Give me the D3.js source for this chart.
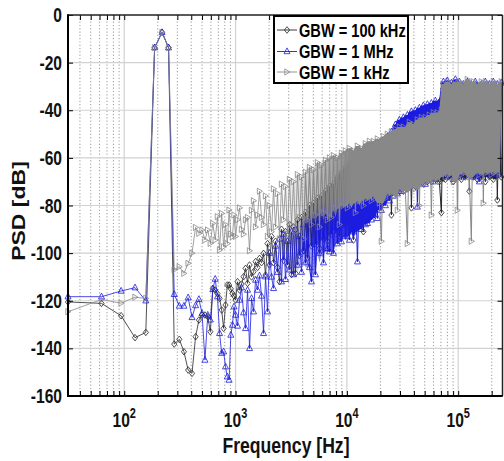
<!DOCTYPE html>
<html><head><meta charset="utf-8">
<script src="https://cdn.jsdelivr.net/npm/d3@7"></script>
<style>
html,body{margin:0;padding:0;background:#fff;}
svg{display:block;font-family:"Liberation Sans",Arial,sans-serif;font-weight:bold;}
</style>
</head><body>
<svg id="c" width="504" height="461"></svg>
<script>
// ---------------- DATA ----------------
const seriesNames = ["GBW = 100 kHz", "GBW = 1 MHz", "GBW = 1 kHz"];
const yTicks = [-160, -140, -120, -100, -80, -60, -40, -20, 0];
const xTickExponents = [2, 3, 4, 5];

// individually resolved bins (Hz)
const freqLow = [31.25,62.5,93.75,125,156.25,187.5,218.75,250,281.25,312.5,343.75,375,406.25,437.5,468.75,500,531.25,562.5,593.75,625,656.25,687.5,718.75,750,781.25,812.5,843.75,875,906.25,937.5,968.75];
// dense part, sampled (Hz)
const freqHigh = [1000,1042,1086,1132,1180,1230,1282,1336,1392,1451,
1512,1576,1642,1712,1784,1859,1938,2019,2105,2194,
2286,2383,2483,2588,2697,2811,2930,3053,3182,3317,
3456,3602,3754,3913,4078,4250,4429,4616,4811,5014,
5225,5446,5676,5915,6165,6425,6696,6978,7273,7580,
7900,8233,8580,8942,9319,9712,10122,10549,10994,11458,
11941,12445,12970,13517,14088,14682,15302,15948,16621,17322,
18053,18815,19609,20436,21299,22197,23134,24110,25128,26188,
27293,28445,29645,30896,32200,33559,34975,36451,37989,39592,
41263,43004,44819,46710,48681,50736,52877,55108,57433,59857,
62383,65015,67759,70618,73598,76704,79941,83314,86830,90494,
94313,98293,102441,106764,111269,115965,120858,125958,131274,136813,
142587,148604,154875,161411,168223,175322,182721,190432,198468,206843,
215572,224669,234150,244031];

// GBW = 100 kHz (dB)
const psd100kLow = [-120.5,-121.1,-126.3,-135.5,-133.3,-13.7,-7.3,-13.7,-138.2,-136.2,-141.4,-149.1,-150.5,-135.1,-128.1,-126,-126,-126.7,-133,-114.8,-115.5,-117,-119,-123.9,-131.6,-121.8,-113.4,-113.4,-115,-116.9,-118];
const psd100kHigh = [-119.7,-112,-115.5,-113,-109.9,-106.4,-112.7,-105,-110,-107.8,
-103.6,-106,-102.2,-104,-100.1,-109.2,-96,-105,-93,-104,
-95,-106,-112,-90,-103,-91,-105,-88,-109,-89,
-108.5,-86,-101,-85,-99,-83,-102,-80,-97,-79,
-96,-77,-98,-76,-94,-74,-95,-72,-92,-71,
-90,-68,-93,-66,-88,-64,-89,-62,-86,-94.5,
-60,-85,-59,-84,-91,-57,-82,-55,-80,-55,
-79,-54,-78,-53,-77,-52,-76,-51,-84,-50,
-75,-49,-74,-48,-74,-47.5,-73,-47,-81,-46,
-72,-45,-71,-44,-71,-43.5,-70,-43,-70,-42,
-69,-41.5,-70,-83,-31,-69,-30,-68,-31,-70,
-30,-68,-31,-69,-30,-68,-31,-74,-30,-68,
-31,-69,-30,-68,-31,-70,-30,-68,-31,-69,
-30,-77.7,-31,-68];

// GBW = 1 MHz (dB)
const psd1MLow = [-118.3,-118.3,-115.9,-114.5,-120,-13.7,-7.3,-13.7,-117.3,-122.2,-122.2,-118.7,-127,-122,-119.4,-125.3,-144.9,-126,-128,-115.2,-110.9,-118.3,-133.7,-142,-141.4,-147.7,-151.9,-153.3,-134.4,-130.2,-122.5];
const psd1MHigh = [-126,-130.6,-119.7,-114.5,-125,-131.6,-115.5,-140,-119,-124.6,
-111.3,-115.5,-109.5,-118,-133.7,-109.9,-124.6,-100,-110,-114.8,
-97,-108,-94,-112,-92,-111,-95,-107,-91,-109,
-90,-105,-93,-108,-88,-104,-86,-106,-112,-85,
-109,-83,-100,-81,-104,-82,-98,-99.4,-80,-100,
-79,-96,-78,-95.2,-77,-93,-76,-94.5,-74,-91,
-72,-103.6,-70,-90,-68,-88,-87.5,-63,-86,-60,
-57,-85.4,-56,-82,-53,-80,-51,-78,-49,-76,
-46,-75,-44,-74,-43,-72,-42,-72,-40.5,-71,
-40,-80.6,-39,-70,-38,-71,-37.5,-69,-37,-70,
-36,-69,-60,-35,-28,-68,-27.5,-67,-28.5,-69,
-27,-67,-28,-68,-29,-66,-28,-67,-29,-68,
-28,-66,-70,-29,-67,-28,-66,-29,-67,-28,
-66,-29,-67,-28.5];

// GBW = 1 kHz (dB)
const psd1kLow = [-124.6,-119.5,-121,-118.5,-119,-13.7,-7.3,-13.7,-107,-105.7,-108.5,-104.3,-100,-89.2,-91.7,-90.3,-94.5,-90.3,-95.9,-87.5,-94.5,-84.7,-98.7,-83.3,-97.3,-88,-96,-81.9,-92,-93.1,-84];
const psd1kHigh = [-93,-86,-81,-90,-92,-86,-85,-99,-82,-78,
-89,-84,-74,-85,-88,-76,-93,-80,-91,-73,
-89,-75,-94,-71,-86,-72,-92,-69,-88,-70,
-91,-67,-85,-68,-94,-66,-86,-64,-88,-65,
-84,-62,-89,-63,-83,-61,-86,-60,-85,-59,
-81,-60,-88,-58,-80,-57,-81,-56,-79,-57,
-83,-55,-78,-56,-80,-54,-77,-53,-78,-53,
-76,-52,-79,-95,-51,-77,-50,-75,-49,-76,
-48,-82,-47,-73,-47,-74,-96,-45,-72,-46,
-73,-44,-80,-43,-71,-43,-70,-42,-84,-41,
-69,-41,-70,-40,-29,-68,-28,-67,-29,-70,
-28,-82,-28,-67,-29,-66,-27,-68,-95,-28,
-66,-29,-67,-28,-79,-28,-66,-29,-67,-28,
-66,-29,-68,-28];

// ---------------- CHART ----------------
const svg = d3.select("#c");
const L = 68, R = 502.5, T = 15, B = 396;
const x = d3.scaleLog().domain([31.25, 250000]).range([L, R]);
const y = d3.scaleLinear().domain([-160, 0]).range([B, T]);

const freq = freqLow.concat(freqHigh);
const series = [
  {id: "s0", name: seriesNames[0], vals: psd100kLow.concat(psd100kHigh), color: "#262626", marker: "M0,-3.3L2.6,0L0,3.3L-2.6,0Z"},
  {id: "s1", name: seriesNames[1], vals: psd1MLow.concat(psd1MHigh), color: "#1c1ce0", marker: "M0,-3.6L3,2.2L-3,2.2Z"},
  {id: "s2", name: seriesNames[2], vals: psd1kLow.concat(psd1kHigh), color: "#888888", marker: "M3,0L-2.2,-3.1L-2.2,3.1Z"}
];

// gradients: the point cloud gets denser with frequency
const bandStart = 2500, bandFull = 11000;
const defs = svg.append("defs");
series.forEach(s => {
  const gr = defs.append("linearGradient").attr("id", "g" + s.id)
    .attr("gradientUnits", "userSpaceOnUse")
    .attr("x1", x(bandStart)).attr("x2", x(bandFull)).attr("y1", 0).attr("y2", 0);
  gr.append("stop").attr("offset", 0).attr("stop-color", s.color).attr("stop-opacity", 0);
  gr.append("stop").attr("offset", 0.55).attr("stop-color", s.color).attr("stop-opacity", 0.55);
  gr.append("stop").attr("offset", 1).attr("stop-color", s.color).attr("stop-opacity", 1);
});

// grid
const majorF = xTickExponents.map(e => Math.pow(10, e));
const minorF = [];
[10, 100, 1000, 10000, 100000].forEach(d => { for (let m = 2; m <= 9; m++) { const f = m * d; if (f > 31.25 && f < 250000) minorF.push(f); } });

const grid = svg.append("g");
grid.selectAll("line.mx").data(minorF).join("line").attr("class", "mx")
  .attr("x1", d => x(d)).attr("x2", d => x(d)).attr("y1", T).attr("y2", B)
  .attr("stroke", "#a3a3a3").attr("stroke-width", 1.1).attr("stroke-dasharray", "1.2,2.1");
grid.selectAll("line.Mx").data(majorF).join("line").attr("class", "Mx")
  .attr("x1", d => x(d)).attr("x2", d => x(d)).attr("y1", T).attr("y2", B)
  .attr("stroke", "#d2d2d2").attr("stroke-width", 1.2);
grid.selectAll("line.My").data(yTicks.slice(1, -1)).join("line").attr("class", "My")
  .attr("x1", L).attr("x2", R).attr("y1", d => y(d)).attr("y2", d => y(d))
  .attr("stroke", "#d2d2d2").attr("stroke-width", 1.2);

// series
const line = d3.line().x(d => x(d[0])).y(d => y(d[1]));
const area = d3.area().x(d => x(d.f)).y0(d => y(d.lo)).y1(d => y(d.hi));
const widthBands = [{lo: 0, hi: 4000, w: 0.8}, {lo: 4000, hi: 9000, w: 1.1}, {lo: 9000, hi: 1e9, w: 1.0}];
series.forEach(s => {
  const pts = freq.map((f, i) => [f, s.vals[i]]);
  const g = svg.append("g");
  const env = [];
  pts.forEach((p, i) => {
    if (p[0] < bandStart) return;
    const w5 = s.vals.slice(Math.max(0, i - 2), Math.min(pts.length, i + 3)).sort((a, b) => a - b);
    const top = Math.max(...s.vals.slice(Math.max(0, i - 1), Math.min(pts.length, i + 2)));
    env.push({f: p[0], lo: w5[1], hi: top});
  });
  g.append("path").datum(env).attr("d", area).attr("fill", `url(#g${s.id})`).attr("stroke", "none");
  widthBands.forEach(b => {
    const idx = pts.map((p, i) => i).filter(i => pts[i][0] >= b.lo && pts[i][0] < b.hi);
    if (!idx.length) return;
    const a = idx[0], z = Math.min(idx[idx.length - 1] + 1, pts.length - 1);
    g.append("path").datum(pts.slice(a, z + 1)).attr("d", line)
      .attr("fill", "none").attr("stroke", s.color).attr("stroke-width", b.w)
      .attr("stroke-linejoin", "round");
  });
  g.selectAll("path.m").data(pts).join("path").attr("class", "m")
    .attr("d", s.marker)
    .attr("transform", p => `translate(${x(p[0])},${y(p[1])})`)
    .attr("fill", "none").attr("stroke", s.color).attr("stroke-width", 0.8);
});

// axes (ticks only)
const allXT = majorF.concat(minorF);
function clean(g) { g.select(".domain").remove(); g.selectAll(".tick line").attr("stroke", "#000").attr("stroke-width", 1); }
svg.append("g").attr("transform", `translate(0,${B})`).call(d3.axisBottom(x).tickValues(allXT).tickSize(-5).tickFormat("")).call(clean);
svg.append("g").attr("transform", `translate(0,${T})`).call(d3.axisTop(x).tickValues(allXT).tickSize(-5).tickFormat("")).call(clean);
svg.append("g").attr("transform", `translate(${L},0)`).call(d3.axisLeft(y).tickValues(yTicks).tickSize(-5).tickFormat("")).call(clean);
svg.append("g").attr("transform", `translate(${R},0)`).call(d3.axisRight(y).tickValues(yTicks).tickSize(-5).tickFormat("")).call(clean);

// spines
svg.append("line").attr("x1", L).attr("x2", R).attr("y1", T).attr("y2", T).attr("stroke", "#222").attr("stroke-width", 1.5);
svg.append("line").attr("x1", R).attr("x2", R).attr("y1", T).attr("y2", B).attr("stroke", "#222").attr("stroke-width", 1.5);
svg.append("line").attr("x1", L).attr("x2", L).attr("y1", T - 0.8).attr("y2", B + 1).attr("stroke", "#000").attr("stroke-width", 2);
svg.append("line").attr("x1", L - 1).attr("x2", R).attr("y1", B).attr("y2", B).attr("stroke", "#000").attr("stroke-width", 2);

// tick labels
svg.append("g").selectAll("text").data(yTicks).join("text")
  .attr("transform", d => `translate(62,${y(d) + 7}) scale(0.78,1)`)
  .attr("text-anchor", "end").attr("font-size", 20).attr("fill", "#111").text(d => d);

const xl = svg.append("g").selectAll("text").data(xTickExponents).join("text")
  .attr("transform", e => `translate(${x(Math.pow(10, e))},427) scale(0.78,1)`)
  .attr("text-anchor", "middle").attr("font-size", 20).attr("fill", "#111");
xl.append("tspan").text("10");
xl.append("tspan").attr("font-size", 14).attr("dy", -9).text(e => e);

// axis titles
svg.append("text").attr("transform", "translate(286,453) scale(0.8,1)")
  .attr("text-anchor", "middle").attr("font-size", 22).attr("fill", "#111").text("Frequency [Hz]");
svg.append("text").attr("transform", "translate(25,211) scale(0.79,1) rotate(-90)")
  .attr("text-anchor", "middle").attr("font-size", 23).attr("fill", "#111").text("PSD [dB]");

// legend
const lg = svg.append("g");
lg.append("rect").attr("x", 274).attr("y", 16).attr("width", 134).attr("height", 67)
  .attr("fill", "#fff").attr("stroke", "#000").attr("stroke-width", 2);
const rowY = [30, 51.5, 72];
series.forEach((s, i) => {
  const cy = rowY[i];
  lg.append("line").attr("x1", 277).attr("x2", 297).attr("y1", cy).attr("y2", cy)
    .attr("stroke", s.color).attr("stroke-width", 0.9);
  lg.append("path").attr("d", s.marker).attr("transform", `translate(287,${cy})`)
    .attr("fill", "none").attr("stroke", s.color).attr("stroke-width", 0.8);
  lg.append("text").attr("transform", `translate(299,${cy + 6.5}) scale(0.79,1)`)
    .attr("font-size", 18.5).attr("fill", "#000").text(s.name);
});
</script>
</body></html>
